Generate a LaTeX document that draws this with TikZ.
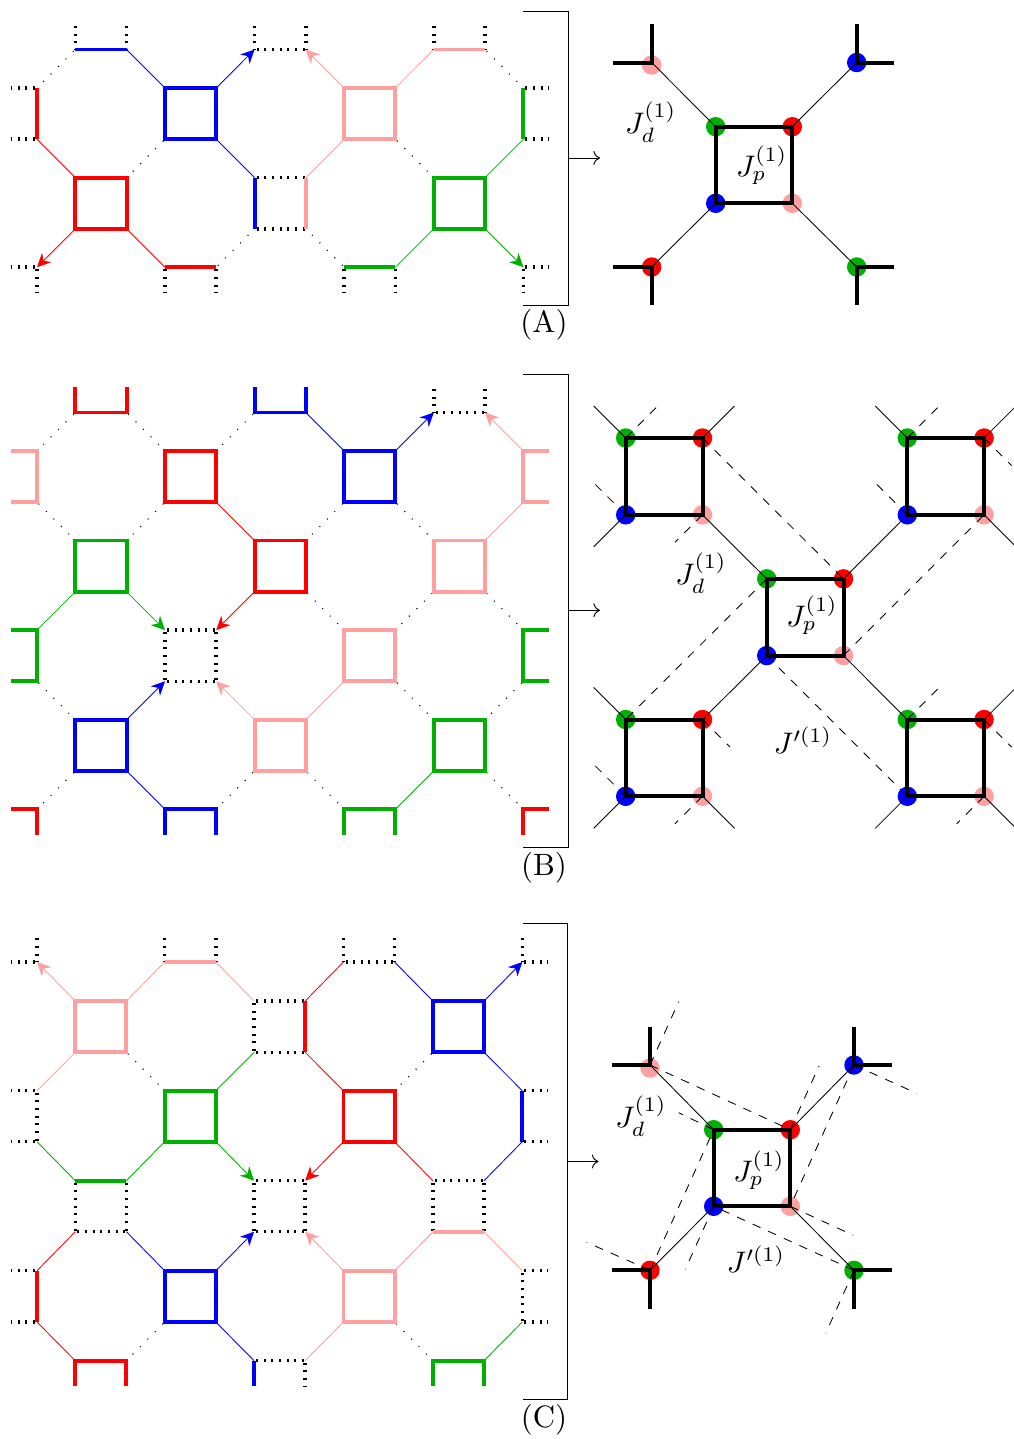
\documentclass[tikz,border=0pt]{standalone}
\usetikzlibrary{arrows.meta,calc}
\definecolor{cr}{RGB}{255,0,0}
\definecolor{cb}{RGB}{0,0,255}
\definecolor{cg}{RGB}{0,176,0}
\definecolor{cp}{RGB}{255,160,160}
\tikzset{
  tk/.style={line width=1.35pt,line join=miter},
  dt/.style={line width=1.2pt,black,dash pattern=on .7pt off 1.98pt,dash phase=1.98pt},
  dd/.style={line width=.4pt,black,dash pattern=on .35pt off 3.35pt,dash phase=.62pt},
  th/.style={line width=.3pt},
  ar/.style={line width=.3pt,-{Stealth[length=4.8pt,width=4.6pt]}},
  bk/.style={line width=1.4pt,black},
  brk/.style={line width=.33pt,black},
  das/.style={line width=.3pt,black,dashed},
  lab/.style={inner sep=0pt,scale=1.04},
  tag/.style={inner sep=0pt,scale=1.08}
}
% grid of named crossings: panel, column list, row list
\newcommand\grid[3]{\foreach \n/\x in {#2}{\foreach \m/\y in {#3}{\coordinate (#1\n\m) at (\x,\y);}}}
\newcommand\seg[3]{\foreach \p/\q in {#3}{\draw[#1] (#2\p)--(#2\q);}}
\newcommand\sq[6]{\draw[tk,#1] (#2#3)--(#2#4)--(#2#5)--(#2#6)--cycle;}
\newcommand\opn[6]{\draw[tk,#1] (#2#3)--(#2#4)--(#2#5)--(#2#6);}
\newcommand\dotat[2]{\fill[#1] (#2) circle[radius=3.4pt];}
% a plaquette of the right-hand figures
\newcommand\cell[3]{%
  \coordinate (#1G) at (#2,#3);
  \coordinate (#1R) at ($(#1G)+(76.8,0)$);
  \coordinate (#1B) at ($(#1G)+(0,76.8)$);
  \coordinate (#1P) at ($(#1G)+(76.8,76.8)$);
  \coordinate (#1Gs) at ($(#1G)+(-32,-32)$);
  \coordinate (#1Gd) at ($(#1G)+(32,-32)$);
  \coordinate (#1Rs) at ($(#1R)+(32,-32)$);
  \coordinate (#1Rd) at ($(#1R)+(27.5,27.5)$);
  \coordinate (#1Bs) at ($(#1B)+(-32,32)$);
  \coordinate (#1Bd) at ($(#1B)+(-32,-32)$);
  \coordinate (#1Ps) at ($(#1P)+(32,32)$);
  \coordinate (#1Pd) at ($(#1P)+(-27.5,27.5)$);
}
\newcommand\celldots[1]{\dotat{cg}{#1G}\dotat{cr}{#1R}\dotat{cb}{#1B}\dotat{cp}{#1P}}
\newcommand\cellsq[1]{\draw[bk] (#1G)--(#1R)--(#1P)--(#1B)--cycle;}
\begin{document}
\begin{tikzpicture}[x=.35pt,y=-.35pt]
\path[use as bounding box,fill=white] (0,0) rectangle (1014,1439);
%%%%%%%%%%%% panel A lattice
\grid{A}{y/11.4,a/37,b/75.4,c/126.6,d/165,e/216.2,f/254.6,g/305.8,h/344.2,i/395.4,j/433.8,k/485,l/523.4,m/549}{0/23.9,1/49.5,2/88,3/139.2,4/177.6,5/228.8,6/267.2,7/292.8}
\seg{dt}{A}{b0/b1,c0/c1,f0/f1,g0/g1,j0/j1,k0/k1,f1/g1,f4/g4,f5/g5,a2/y2,a3/y3,a6/y6,l2/m2,l3/m3,l6/m6,a6/a7,d6/d7,e6/e7,h6/h7,i6/i7,l6/l7}
\seg{dd}{A}{a2/b1,l2/k1,c4/d3,j4/i3,f5/e6,g5/h6}
\sq{cb}{A}{d2}{e2}{e3}{d3}
\sq{cp}{A}{h2}{i2}{i3}{h3}
\sq{cr}{A}{b4}{c4}{c5}{b5}
\sq{cg}{A}{j4}{k4}{k5}{j5}
\seg{tk,cb}{A}{b1/c1,f4/f5}
\seg{tk,cp}{A}{j1/k1,g4/g5}
\seg{tk,cr}{A}{d6/e6,a2/a3}
\seg{tk,cg}{A}{h6/i6,l2/l3}
\seg{th,cb}{A}{c1/d2,e3/f4}
\seg{th,cp}{A}{i2/j1,g4/h3}
\seg{th,cr}{A}{a3/b4,c5/d6}
\seg{th,cg}{A}{k4/l3,i6/j5}
\seg{ar,cb}{A}{e2/f1}
\seg{ar,cp}{A}{h2/g1}
\seg{ar,cr}{A}{b5/a6}
\seg{ar,cg}{A}{k5/l6}
%%%%%%%%%%%% panel A bracket and detail
\coordinate (Abr1) at (523,11); \coordinate (Abr2) at (568.5,11);
\coordinate (Abr3) at (568.5,305.3); \coordinate (Abr4) at (523,305.3);
\draw[brk] (Abr1)--(Abr2)--(Abr3)--(Abr4);
\coordinate (Aas) at (568.5,158); \coordinate (Aae) at (600,158);
\draw[brk,->] (Aas)--(Aae);
\node[tag] (Alab) at (544,325) {(A)};
\coordinate (AG) at (715.7,126.7); \coordinate (AR) at (792.3,126.7);
\coordinate (AB) at (715.7,203.3); \coordinate (AP) at (792.3,203.3);
\coordinate (AoP) at (651.7,62.5); \coordinate (AoB) at (856.7,62.5);
\coordinate (AoR) at (651.7,267); \coordinate (AoG) at (856.7,267);
\coordinate (AoPd) at (651.7,65);
\coordinate (AoPu) at (651.7,24); \coordinate (AoPl) at (613.3,62.5);
\coordinate (AoBu) at (856.7,24); \coordinate (AoBr) at (894.3,62.5);
\coordinate (AoRl) at (613.3,267); \coordinate (AoRd) at (651.7,305.3);
\coordinate (AoGr) at (894.3,267); \coordinate (AoGd) at (856.7,305.3);
\dotat{cg}{AG}\dotat{cr}{AR}\dotat{cb}{AB}\dotat{cp}{AP}
\dotat{cp}{AoPd}\dotat{cb}{AoB}\dotat{cr}{AoR}\dotat{cg}{AoG}
\draw[th] (AoP)--(AG); \draw[th] (AoB)--(AR); \draw[th] (AoR)--(AB); \draw[th] (AoG)--(AP);
\draw[bk] (AG)--(AR)--(AP)--(AB)--cycle;
\draw[bk] (AoPu)--(AoP)--(AoPl); \draw[bk] (AoBu)--(AoB)--(AoBr);
\draw[bk] (AoRl)--(AoR)--(AoRd); \draw[bk] (AoGr)--(AoG)--(AoGd);
\node[lab] (AJd) at (650.7,122) {$J_d^{(1)}$};
\node[lab] (AJp) at (761.7,165) {$J_p^{(1)}$};
%%%%%%%%%%%% panel B lattice
\grid{B}{y/11.4,a/37,b/75.4,c/126.6,d/165,e/216.2,f/254.6,g/305.8,h/344.2,i/395.4,j/433.8,k/485,l/523.4,m/549}{0/386.9,1/412.5,2/450.9,3/502.1,4/540.5,5/591.7,6/630.1,7/681.3,8/719.7,9/770.9,10/809.3,11/834.9}
\seg{dt}{B}{j0/j1,k0/k1,j1/k1,d6/e6,d7/e7,d6/d7,e6/e7}
\seg{dd}{B}{a2/b1,d2/c1,e2/f1,b4/a3,c4/d3,g4/h3,j4/i3,h6/g5,i6/j5,l6/k5,b8/a7,j8/i7,k8/l7,a10/b9,e10/f9,h10/g9,l10/k9}
\sq{cr}{B}{d2}{e2}{e3}{d3}
\sq{cb}{B}{h2}{i2}{i3}{h3}
\sq{cg}{B}{b4}{c4}{c5}{b5}
\sq{cr}{B}{f4}{g4}{g5}{f5}
\sq{cp}{B}{j4}{k4}{k5}{j5}
\sq{cp}{B}{h6}{i6}{i7}{h7}
\sq{cb}{B}{b8}{c8}{c9}{b9}
\sq{cp}{B}{f8}{g8}{g9}{f9}
\sq{cg}{B}{j8}{k8}{k9}{j9}
\opn{cr}{B}{b0}{b1}{c1}{c0}
\opn{cb}{B}{f0}{f1}{g1}{g0}
\opn{cp}{B}{y2}{a2}{a3}{y3}
\opn{cp}{B}{m2}{l2}{l3}{m3}
\opn{cg}{B}{y6}{a6}{a7}{y7}
\opn{cg}{B}{m6}{l6}{l7}{m7}
\opn{cb}{B}{d11}{d10}{e10}{e11}
\opn{cg}{B}{h11}{h10}{i10}{i11}
\draw[tk,cr] (By10)--(Ba10)--(Ba11);
\draw[tk,cr] (Bm10)--(Bl10)--(Bl11);
\seg{th,cb}{B}{g1/h2,c9/d10}
\seg{th,cp}{B}{l3/k4,g8/h7}
\seg{th,cr}{B}{e3/f4}
\seg{th,cg}{B}{b5/a6,i10/j9}
\seg{ar,cb}{B}{i2/j1,c8/d7}
\seg{ar,cp}{B}{l2/k1,f8/e7}
\seg{ar,cg}{B}{c5/d6}
\seg{ar,cr}{B}{f5/e6}
%%%%%%%%%%%% panel B bracket and detail
\coordinate (Bbr1) at (523,374); \coordinate (Bbr2) at (568.5,374);
\coordinate (Bbr3) at (568.5,847.5); \coordinate (Bbr4) at (523,847.5);
\draw[brk] (Bbr1)--(Bbr2)--(Bbr3)--(Bbr4);
\coordinate (Bas) at (568.5,610.3); \coordinate (Bae) at (600,610.3);
\draw[brk,->] (Bas)--(Bae);
\node[tag] (Blab) at (544,868) {(B)};
\cell{TL}{625.7}{438}
\cell{TR}{907.3}{438}
\cell{CC}{766.7}{578.8}
\cell{BL}{625.7}{719.5}
\cell{BR}{907.3}{719.5}
\celldots{TL}\celldots{TR}\celldots{CC}\celldots{BL}\celldots{BR}
% solid couplings
\draw[th] (TLP)--(CCG); \draw[th] (TRB)--(CCR); \draw[th] (BLR)--(CCB); \draw[th] (BRG)--(CCP);
\draw[th] (TLG)--(TLGs); \draw[th] (TLR)--(TLRs); \draw[th] (TLB)--(TLBs);
\draw[th] (TRG)--(TRGs); \draw[th] (TRR)--(TRRs); \draw[th] (TRP)--(TRPs);
\draw[th] (BLG)--(BLGs); \draw[th] (BLB)--(BLBs); \draw[th] (BLP)--(BLPs);
\draw[th] (BRR)--(BRRs); \draw[th] (BRB)--(BRBs); \draw[th] (BRP)--(BRPs);
% dashed couplings
\draw[das] (TLR)--(CCR); \draw[das] (CCG)--(BLG); \draw[das] (CCP)--(TRP); \draw[das] (CCB)--(BRB);
\draw[das] (TLG)--(TLGd); \draw[das] (TLB)--(TLBd); \draw[das] (TLP)--(TLPd);
\draw[das] (TRG)--(TRGd); \draw[das] (TRB)--(TRBd); \draw[das] (TRR)--(TRRd);
\draw[das] (BLR)--(BLRd); \draw[das] (BLB)--(BLBd); \draw[das] (BLP)--(BLPd);
\draw[das] (BRG)--(BRGd); \draw[das] (BRR)--(BRRd); \draw[das] (BRP)--(BRPd);
\cellsq{TL}\cellsq{TR}\cellsq{CC}\cellsq{BL}\cellsq{BR}
\node[lab] (BJd) at (701,573) {$J_d^{(1)}$};
\node[lab] (BJp) at (812,615) {$J_p^{(1)}$};
\node[lab] (BJq) at (803,740) {$J'^{(1)}$};
%%%%%%%%%%%% panel C lattice
\grid{C}{y/11.4,a/37,b/75.3,c/126.4,d/164.7,e/215.8,f/254.1,g/305.2,h/343.5,i/394.6,j/432.9,k/484,l/522.3,m/548}{0/936.4,1/962,2/1001,3/1052.3,4/1090.7,5/1141.7,6/1180.7,7/1231.7,8/1270.7,9/1322,10/1360.7,11/1386.3}
\seg{dt}{C}{a0/a1,a1/y1,d0/d1,e0/e1,h0/h1,i0/i1,l0/l1,l1/m1,h1/i1,f2/g2,f3/g3,f2/f3,a4/y4,a5/y5,a4/a5,l4/m4,l5/m5,b6/b7,c6/c7,b7/c7,f6/g6,f7/g7,f6/f7,g6/g7,j6/k6,j6/j7,k6/k7,a8/y8,a9/y9,l8/m8,l9/m9,l8/l9,f10/g10,g10/g11}
\seg{dd}{C}{d4/c3,i4/j3,c10/d9,j10/i9}
\sq{cp}{C}{b2}{c2}{c3}{b3}
\sq{cb}{C}{j2}{k2}{k3}{j3}
\sq{cg}{C}{d4}{e4}{e5}{d5}
\sq{cr}{C}{h4}{i4}{i5}{h5}
\sq{cb}{C}{d8}{e8}{e9}{d9}
\sq{cp}{C}{h8}{i8}{i9}{h9}
\opn{cr}{C}{b11}{b10}{c10}{c11}
\opn{cg}{C}{j11}{j10}{k10}{k11}
\seg{tk,cp}{C}{d1/e1,j7/k7}
\seg{tk,cr}{C}{g2/g3,a8/a9}
\seg{tk,cb}{C}{l4/l5,f10/f11}
\seg{tk,cg}{C}{b6/c6}
\seg{th,cp}{C}{c2/d1,e1/f2,b3/a4,i8/j7,k7/l8,g10/h9}
\seg{th,cr}{C}{g2/h1,g3/h4,i5/j6,a8/b7,a9/b10}
\seg{th,cb}{C}{i1/j2,k3/l4,k6/l5,c7/d8,e9/f10}
\seg{th,cg}{C}{e4/f3,a5/b6,c6/d5,k10/l9}
\seg{ar,cp}{C}{b2/a1,h8/g7}
\seg{ar,cb}{C}{k2/l1,e8/f7}
\seg{ar,cg}{C}{e5/f6}
\seg{ar,cr}{C}{h5/g6}
%%%%%%%%%%%% panel C bracket and detail
\coordinate (Cbr1) at (523,923.5); \coordinate (Cbr2) at (567,923.5);
\coordinate (Cbr3) at (567,1399); \coordinate (Cbr4) at (523,1399);
\draw[brk] (Cbr1)--(Cbr2)--(Cbr3)--(Cbr4);
\coordinate (Cas) at (567,1161.5); \coordinate (Cae) at (598.5,1161.5);
\draw[brk,->] (Cas)--(Cae);
\node[tag] (Clab) at (544,1420) {(C)};
\coordinate (CG) at (713.7,1129.7); \coordinate (CR) at (790.3,1129.7);
\coordinate (CB) at (713.7,1206.3); \coordinate (CP) at (790.3,1206.3);
\coordinate (CoP) at (650,1065); \coordinate (CoB) at (854,1065);
\coordinate (CoR) at (650,1270.3); \coordinate (CoG) at (854,1270.3);
\coordinate (CoPd) at (650,1068);
\coordinate (CoPu) at (650,1026.7); \coordinate (CoPl) at (611.7,1065);
\coordinate (CoBu) at (854,1026.7); \coordinate (CoBr) at (892.3,1065);
\coordinate (CoRl) at (611.7,1270.3); \coordinate (CoRd) at (650,1309);
\coordinate (CoGr) at (892.3,1270.3); \coordinate (CoGd) at (854,1309);
\coordinate (Cd1) at (678.7,1001.7); \coordinate (Cd2) at (678.7,1112.7);
\coordinate (Cd3) at (819,1066); \coordinate (Cd4) at (916.7,1093.3);
\coordinate (Cd5) at (853.3,1235.3); \coordinate (Cd6) at (685.3,1269.3);
\coordinate (Cd7) at (586.7,1242.3); \coordinate (Cd8) at (825.7,1333.3);
\dotat{cg}{CG}\dotat{cr}{CR}\dotat{cb}{CB}\dotat{cp}{CP}
\dotat{cp}{CoPd}\dotat{cb}{CoB}\dotat{cr}{CoR}\dotat{cg}{CoG}
\draw[th] (CoP)--(CG); \draw[th] (CoB)--(CR); \draw[th] (CoR)--(CB); \draw[th] (CoG)--(CP);
\draw[das] (CoP)--(CR); \draw[das] (CoB)--(CP); \draw[das] (CoR)--(CG); \draw[das] (CoG)--(CB);
\draw[das] (CoP)--(Cd1); \draw[das] (CG)--(Cd2); \draw[das] (CR)--(Cd3); \draw[das] (CoB)--(Cd4);
\draw[das] (CP)--(Cd5); \draw[das] (CB)--(Cd6); \draw[das] (CoR)--(Cd7); \draw[das] (CoG)--(Cd8);
\draw[bk] (CG)--(CR)--(CP)--(CB)--cycle;
\draw[bk] (CoPu)--(CoP)--(CoPl); \draw[bk] (CoBu)--(CoB)--(CoBr);
\draw[bk] (CoRl)--(CoR)--(CoRd); \draw[bk] (CoGr)--(CoG)--(CoGd);
\node[lab] (CJd) at (641,1116) {$J_d^{(1)}$};
\node[lab] (CJp) at (759,1170) {$J_p^{(1)}$};
\node[lab] (CJq) at (756,1259) {$J'^{(1)}$};
\end{tikzpicture}
\end{document}
